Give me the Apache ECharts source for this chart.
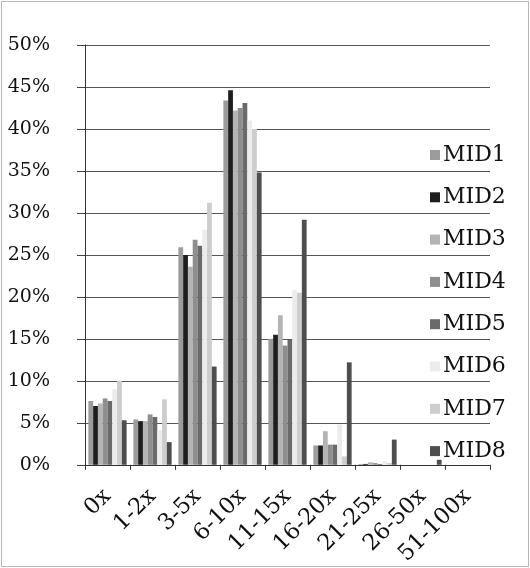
<!DOCTYPE html>
<html>
<head>
<meta charset="utf-8">
<script src="https://cdn.jsdelivr.net/npm/echarts@6/dist/echarts.min.js"></script>
<style>
  html, body { margin: 0; padding: 0; background: #fff; }
  #frame { position: absolute; left: 1px; top: 1px; width: 526px; height: 564px; border: 1px solid #b8b8b8; }
  #chart { position: absolute; left: 0; top: 0; width: 530px; height: 568px; }
</style>
</head>
<body>
<div id="frame"></div>
<div id="chart"></div>
<script>
// Multiple ranges (x), share of companies per MID group (%)
const categories = ['0x', '1-2x', '3-5x', '6-10x', '11-15x', '16-20x', '21-25x', '26-50x', '51-100x'];
const seriesNames = ['MID1', 'MID2', 'MID3', 'MID4', 'MID5', 'MID6', 'MID7', 'MID8'];

const mid1 = [7.6, 5.4, 25.9, 43.4, 15.0, 2.3, 0.1, 0.0, 0.0];
const mid2 = [7.0, 5.2, 25.0, 44.6, 15.5, 2.3, 0.1, 0.0, 0.0];
const mid3 = [7.3, 5.2, 23.6, 42.2, 17.8, 4.0, 0.3, 0.0, 0.0];
const mid4 = [7.9, 6.0, 26.8, 42.5, 14.2, 2.4, 0.2, 0.0, 0.0];
const mid5 = [7.6, 5.7, 26.1, 43.1, 14.9, 2.4, 0.1, 0.0, 0.0];
const mid6 = [9.0, 4.1, 28.0, 41.0, 20.8, 4.8, 0.4, 0.0, 0.0];
const mid7 = [10.0, 7.8, 31.2, 40.0, 20.5, 1.0, 0.2, 0.0, 0.0];
const mid8 = [5.3, 2.7, 11.7, 34.8, 29.2, 12.2, 3.0, 0.6, 0.0];

const yTicks = [0, 5, 10, 15, 20, 25, 30, 35, 40, 45, 50];

const seriesData = [mid1, mid2, mid3, mid4, mid5, mid6, mid7, mid8];
const colors = ['#9c9c9c', '#1e1e1e', '#b4b4b4', '#8e8e8e', '#6a6a6a', '#ececec', '#cdcdcd', '#4e4e4e'];

const fontFamily = '"DejaVu Serif", "Liberation Serif", serif';

const chart = echarts.init(document.getElementById('chart'), null, { renderer: 'canvas' });

chart.setOption({
  animation: false,
  backgroundColor: 'transparent',
  color: colors,
  grid: { left: 85, right: 40, top: 45, bottom: 101, containLabel: false },
  legend: {
    orient: 'vertical',
    left: 425,
    top: 139,
    itemWidth: 10,
    itemHeight: 10,
    itemGap: 20.3,
    icon: 'rect',
    data: seriesNames,
    textStyle: { fontFamily: fontFamily, fontSize: 22, color: '#111', padding: [0, 0, 0, -2] }
  },
  xAxis: {
    type: 'category',
    data: categories,
    axisLine: { lineStyle: { color: '#333', width: 1 } },
    axisTick: { show: true, alignWithLabel: false, length: 5, lineStyle: { color: '#333' } },
    axisLabel: {
      interval: 0,
      rotate: 45,
      margin: 28,
      fontFamily: fontFamily,
      fontSize: 22.5,
      color: '#111'
    },
    splitLine: { show: false }
  },
  yAxis: {
    type: 'value',
    min: yTicks[0],
    max: yTicks[yTicks.length - 1],
    interval: 5,
    axisLine: { show: true, lineStyle: { color: '#333', width: 1 } },
    axisTick: { show: true, length: 8, lineStyle: { color: '#444' } },
    axisLabel: {
      margin: 35,
      fontFamily: fontFamily,
      fontSize: 19,
      color: '#111',
      formatter: v => v + '%'
    },
    splitLine: { show: true, lineStyle: { color: '#555', width: 1 } }
  },
  series: seriesNames.map((name, i) => ({
    name: name,
    type: 'bar',
    data: seriesData[i],
    barGap: '0%',
    barCategoryGap: '15%',
    itemStyle: { color: colors[i] }
  }))
});
</script>
</body>
</html>
